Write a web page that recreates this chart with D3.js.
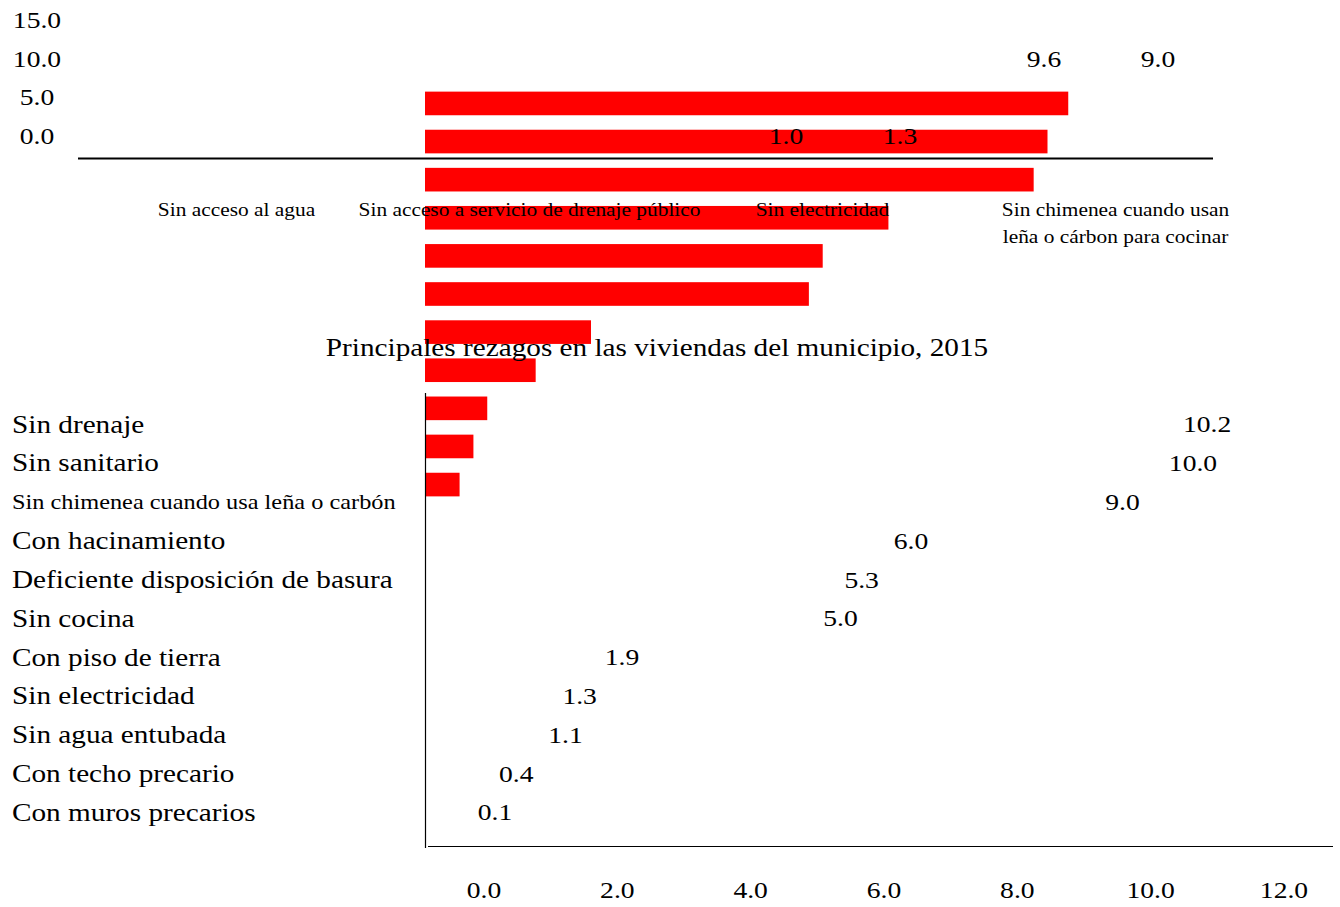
<!DOCTYPE html>
<html>
<head>
<meta charset="utf-8">
<script src="https://cdn.jsdelivr.net/npm/d3@7"></script>
<style>
  body { margin: 0; background: #fff; }
  svg text { font-family: "Liberation Serif", "Times New Roman", serif; fill: #000; }
</style>
</head>
<body>
<svg id="chart" width="1340" height="907"></svg>
<script>
// top chart (servicios basicos)
var topCats = ['Sin acceso al agua', 'Sin acceso a servicio de drenaje público', 'Sin electricidad', 'Sin chimenea cuando usan|leña o cárbon  para cocinar'];
var topSeriesA = [null, null, 1.0, 9.6];
var topSeriesB = [null, null, 1.3, 9.0];
var topTicks = [0, 5, 10, 15];

// bottom chart (rezagos)
var cats = ['Sin drenaje', 'Sin sanitario', 'Sin chimenea cuando usa leña o carbón', 'Con hacinamiento',
  'Deficiente disposición de basura', 'Sin cocina', 'Con piso de tierra', 'Sin electricidad',
  'Sin agua entubada', 'Con techo precario', 'Con muros precarios'];
var values = [10.2, 10.0, 9.0, 6.0, 5.3, 5.0, 1.9, 1.3, 1.1, 0.4, 0.1];
// bar lengths as drawn (bars sit shifted up from their labels)
var barValues = [9.3, 9.0, 8.8, 6.7, 5.75, 5.55, 2.4, 1.6, 0.9, 0.7, 0.5];
var xTicks = [0, 2, 4, 6, 8, 10, 12];
var title = 'Principales rezagos en las viviendas del municipio, 2015';

var STRETCH = 1.15; // text in the original comes out wide
var fmt = d3.format('.1f');
var svg = d3.select('#chart');

function place(sel, fx, fy, sx) {
  sel.attr('transform', function (d, i) {
    return 'translate(' + fx(d, i) + ',' + fy(d, i) + ') scale(' + (sx || STRETCH) + ',1)'
  })
}

// ---- bars first, all text sits on top of them
var xBar = d3.scaleLinear().domain([0, 12]).range([425, 1255]);
var yBar = d3.scaleBand().domain(cats).range([84, 504]).paddingInner(0.38).paddingOuter(0.2);

svg.append('g').selectAll('rect').data(cats).enter().append('rect')
  .attr('x', xBar(0))
  .attr('y', function (d) { return yBar(d) })
  .attr('width', function (d, i) { return xBar(barValues[i]) - xBar(0) })
  .attr('height', yBar.bandwidth())
  .attr('fill', '#ff0000');

// ---- top chart
var tx = d3.scaleBand().domain(topCats).range([90, 1262]);
var tg = d3.scaleBand().domain(topCats).range([198, 1230]);
var tsub = d3.scaleBand().domain(['a', 'b']).range([15, tg.bandwidth() - 15]);
var ty = d3.scaleLinear().domain([0, 15]).range([136, 20]);

svg.append('g').selectAll('text').data(topTicks).enter().append('text')
  .attr('text-anchor', 'middle').attr('dominant-baseline', 'central')
  .style('font-size', '24px')
  .text(function (d) { return fmt(d) })
  .call(place, function () { return 37 }, function (d) { return ty(d) });

svg.append('line')
  .attr('x1', 78).attr('x2', 1213)
  .attr('y1', ty(0) + 22.5).attr('y2', ty(0) + 22.5)
  .attr('stroke', '#000').attr('stroke-width', 2);

var topLab = svg.append('g').selectAll('text').data(topCats).enter().append('text')
  .attr('text-anchor', 'middle')
  .style('font-size', '18.6px')
  .call(place, function (d) { return tx(d) + tx.bandwidth() / 2 }, function () { return 216 });
topLab.each(function (d) {
  var t = d3.select(this);
  d.split('|').forEach(function (p, i) {
    t.append('tspan').attr('x', 0).attr('dy', i ? 27 : 0).text(p);
  });
});

var topData = [];
topCats.forEach(function (c, i) {
  if (topSeriesA[i] != null) topData.push({ c: c, s: 'a', v: topSeriesA[i] });
  if (topSeriesB[i] != null) topData.push({ c: c, s: 'b', v: topSeriesB[i] });
});
svg.append('g').selectAll('text').data(topData).enter().append('text')
  .attr('text-anchor', 'middle').attr('dominant-baseline', 'central')
  .style('font-size', '24px')
  .text(function (d) { return fmt(d.v) })
  .call(place, function (d) { return tg(d.c) + tsub(d.s) + tsub.bandwidth() / 2 },
    function (d) { return d.v > 5 ? ty(10) : ty(0) });

// ---- bottom chart
var x = d3.scaleLinear().domain([0, 12]).range([484, 1284]);
var xLab = d3.scaleLinear().domain([0, 12]).range([488, 1334]);
var yRow = d3.scaleBand().domain(cats).range([405, 832]);

svg.append('text')
  .attr('text-anchor', 'middle').attr('dominant-baseline', 'central')
  .style('font-size', '25px')
  .text(title)
  .call(place, function () { return 657 }, function () { return 348 }, 1.17);

svg.append('line')
  .attr('x1', 425.5).attr('x2', 425.5).attr('y1', 393).attr('y2', 848)
  .attr('stroke', '#000').attr('stroke-width', 1.2);
svg.append('line')
  .attr('x1', 428).attr('x2', 1333).attr('y1', 846.5).attr('y2', 846.5)
  .attr('stroke', '#000').attr('stroke-width', 1.2);

svg.append('g').selectAll('text').data(cats).enter().append('text')
  .attr('dominant-baseline', 'central')
  .style('font-size', function (d) { return d.length > 33 ? '20.8px' : '25px' })
  .text(function (d) { return d })
  .call(place, function () { return 12 }, function (d) { return yRow(d) + yRow.bandwidth() / 2 }, 1.17);

svg.append('g').selectAll('text').data(cats).enter().append('text')
  .attr('text-anchor', 'middle').attr('dominant-baseline', 'central')
  .style('font-size', '24px')
  .text(function (d, i) { return fmt(values[i]) })
  .call(place, function (d, i) { return xLab(values[i]) }, function (d) { return yRow(d) + yRow.bandwidth() / 2 });

svg.append('g').selectAll('text').data(xTicks).enter().append('text')
  .attr('text-anchor', 'middle').attr('dominant-baseline', 'central')
  .style('font-size', '24px')
  .text(function (d) { return fmt(d) })
  .call(place, function (d) { return x(d) }, function () { return 890 });
</script>
</body>
</html>
